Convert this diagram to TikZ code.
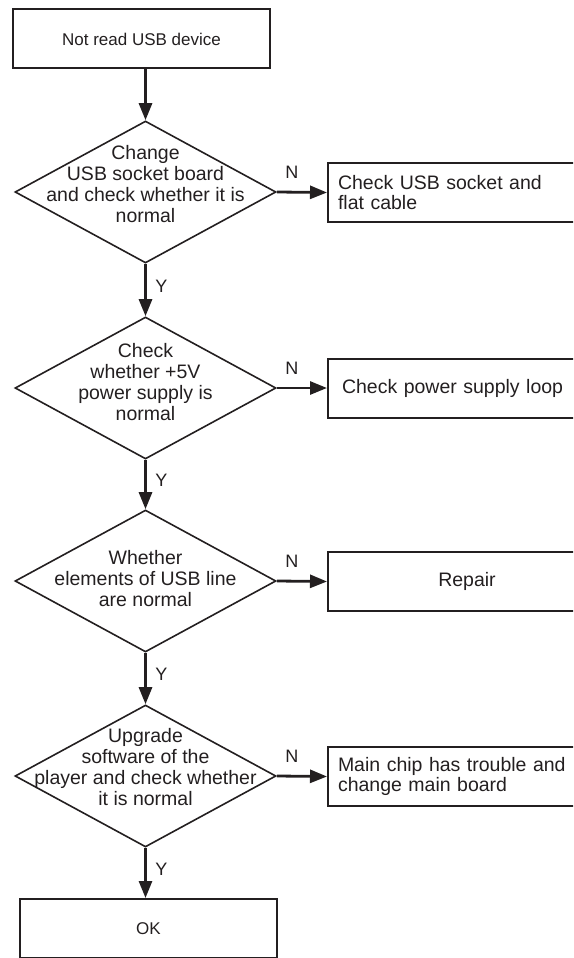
\documentclass[tikz,border=0pt]{standalone}
\usepackage{fontspec}
\setmainfont{Liberation Sans}
\usetikzlibrary{shapes.geometric,arrows.meta}
\definecolor{ink}{HTML}{231F20}
\begin{document}
\begin{tikzpicture}[x=1pt,y=-1pt,
  box/.style={draw=ink,line width=2pt,minimum width=257pt,minimum height=59pt,inner sep=0pt,
    font=\fontsize{17}{20}\selectfont,text=ink},
  dia/.style={diamond,draw=ink,line width=1.6pt,minimum width=261pt,minimum height=142pt,inner sep=0pt},
  dtext/.style={align=center,font=\fontsize{19.5}{21}\selectfont,text=ink,inner sep=0pt},
  rbox/.style={draw=ink,line width=2pt,minimum height=59pt,text width=230pt,inner xsep=10pt,
    inner ysep=0pt,align=left,anchor=west,font=\fontsize{19.5}{20.5}\selectfont,text=ink},
  arr/.style={draw=ink,line width=2.8pt,-{Triangle[length=17pt,width=13pt]}},
  lbl/.style={font=\fontsize{18}{18}\selectfont,text=ink,inner sep=0pt}]
\useasboundingbox (0,0) rectangle (573,958);
\clip (0,0) rectangle (573,958);

% main column
\node[box] (start) at (141.5,39) {Not read USB device};

\node[dia] (d1) at (145.5,192) {};
\node[dtext] (t1) at (145.5,184) {Change\\USB socket board\\and check whether it is\\normal};

\node[dia] (d2) at (145.5,388) {};
\node[dtext] (t2) at (145.5,382) {Check\\whether +5V\\power supply is\\normal};

\node[dia] (d3) at (145.5,581) {};
\node[dtext] (t3) at (145.5,579) {Whether\\elements of USB line\\are normal};

\node[dia] (d4) at (145.5,776) {};
\node[dtext] (t4) at (145.5,767) {Upgrade\\software of the\\player and check whether\\it is normal};

\node[box] (ok) at (148.5,928.5) {OK};

% right-hand actions
\node[rbox] (b1) at (327,192.5) {Check USB socket and\\flat cable};
\node[rbox,inner xsep=14pt] (b2) at (327,388) {Check power supply loop};
\node[rbox,text width=258pt,align=center] (b3) at (327,581.5) {Repair};
\node[rbox] (b4) at (327,776.5) {Main chip has trouble and\\change main board};

% connectors
\draw[arr] (start.south -| d1.north) -- (d1.north);

\draw[arr] (d1.east) -- node[lbl,above=12pt,pos=0.3] (n1) {N} (b1.west);
\draw[arr] (d2.east) -- node[lbl,above=12pt,pos=0.3] (n2) {N} (b2.west);
\draw[arr] (d3.east) -- node[lbl,above=12pt,pos=0.3] (n3) {N} (b3.west);
\draw[arr] (d4.east) -- node[lbl,above=12pt,pos=0.3] (n4) {N} (b4.west);

\draw[arr] (d1.south) -- node[lbl,right=8.5pt,pos=0.42] (y1) {Y} (d2.north);
\draw[arr] (d2.south) -- node[lbl,right=8.5pt,pos=0.41] (y2) {Y} (d3.north);
\draw[arr] (d3.south) -- node[lbl,right=8.5pt,pos=0.42] (y3) {Y} (d4.north);
\draw[arr] (d4.south) -- node[lbl,right=8.5pt,pos=0.42] (y4) {Y} (d4.south |- ok.north);
\end{tikzpicture}
\end{document}
